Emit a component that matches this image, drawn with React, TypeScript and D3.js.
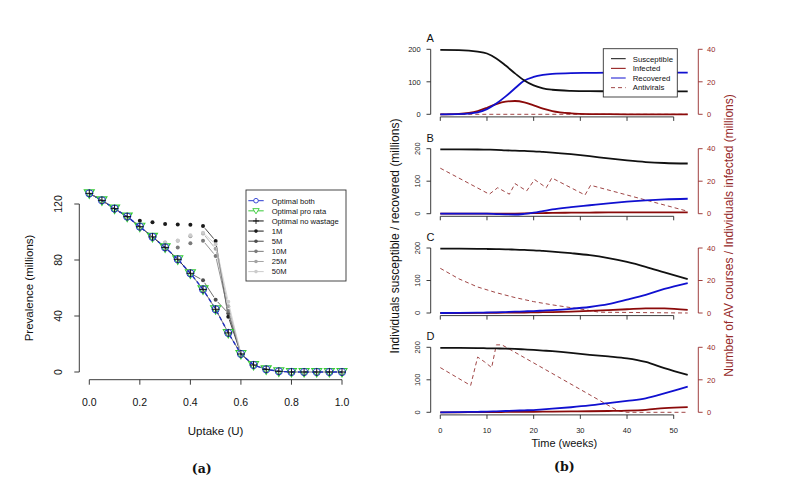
import React from 'react';
import * as d3 from 'd3';

// ---- panel (a): prevalence vs uptake ----
const uptake = [0, 0.05, 0.1, 0.15, 0.2, 0.25, 0.3, 0.35, 0.4, 0.45, 0.5, 0.55, 0.6, 0.65, 0.7, 0.75, 0.8, 0.85, 0.9, 0.95, 1];
const optimalBoth = [127.6, 122.6, 116.7, 111, 103.8, 96.5, 89, 80.5, 70.5, 59, 44.8, 27.9, 12.9, 5, 1.9, 0.5, 0, 0, 0, 0, 0];
const optimalProRata = [127.6, 122.6, 116.7, 111, 103.8, 96.5, 89, 80.5, 70.5, 59, 44.8, 27.9, 12.9, 5, 1.9, 0.5, 0, 0, 0, 0, 0];
const optimalNoWastage = [127.6, 122.6, 116.7, 111, 103.8, 96.5, 89, 80.5, 70.5, 59, 44.8, 27.9, 12.9, 5, 1.9, 0.5, 0, 0, 0, 0, 0];
const budget1M = [127.6, 122.6, 116.7, 111, 108, 107, 105.8, 105.3, 105.2, 104.3, 93.6, 39.5, 12.9, 5, 1.9, 0.5, 0, 0, 0, 0, 0];
const budget5M = [127.6, 122.6, 116.7, 111, 103.8, 96.5, 89, 80.5, 70.5, 65.5, 51.6, 42, 12.9, 5, 1.9, 0.5, 0, 0, 0, 0, 0];
const budget10M = [127.6, 122.6, 116.7, 111, 103.8, 96.5, 89, 89, 91.9, 93.8, 82.9, 43.5, 12.9, 5, 1.9, 0.5, 0, 0, 0, 0, 0];
const budget25M = [127.6, 122.6, 116.7, 111, 103.8, 96.5, 92.5, 93.8, 97, 99, 88, 47, 12.9, 5, 1.9, 0.5, 0, 0, 0, 0, 0];
const budget50M = [127.6, 122.6, 116.7, 111, 103.8, 96.5, 92.5, 94, 97.6, 99.5, 91.2, 50.2, 12.9, 5, 1.9, 0.5, 0, 0, 0, 0, 0];
const budgetSeries = [budget1M, budget5M, budget10M, budget25M, budget50M];
const budgetLabels = ['1M', '5M', '10M', '25M', '50M'];
const budgetColors = ['#1a1a1a', '#4d4d4d', '#7a7a7a', '#a3a3a3', '#cccccc'];
const prevTicks = [0, 40, 80, 120];
const uptakeTicks = [0, 0.2, 0.4, 0.6, 0.8, 1.0];

// ---- panel (b): epidemic curves, four scenarios ----
const panelLetters = ['A', 'B', 'C', 'D'];
const weeks = [0, 4, 8, 10, 12, 14, 16, 18, 20, 22, 24, 28, 32, 36, 40, 44, 48, 53];
const susA = [198, 197.5, 193, 187, 172, 150, 126, 104, 89, 80, 75.5, 72, 71, 70.8, 70.6, 70.5, 70.5, 70.5];
const recA = [0, 0.5, 6, 16, 33, 55, 80, 104, 115, 121, 124.5, 127, 127.5, 128, 128, 128, 128, 128];
const infA = [0, 0.3, 2, 4, 6.3, 7.8, 8.2, 7.4, 5.5, 3.5, 2, 0.6, 0.15, 0.05, 0, 0, 0, 0];
const susB = [198, 198, 197.5, 197, 196.5, 195, 194, 193, 192, 190, 188, 183, 177, 170, 164, 159, 156, 154.5];
const recB = [0, 0, 0, 0, -1, -2, -2.5, -0.5, 3, 8, 13, 20, 26, 32, 37, 41, 44, 46];
const infB = [0, 0, 0, 0, 0, 0, 0.1, 0.2, 0.3, 0.4, 0.5, 0.6, 0.7, 0.8, 0.8, 0.8, 0.8, 0.8];
const susC = [198, 198, 197.5, 197, 196.5, 196, 195, 194, 193, 191, 189, 184, 178, 169, 157, 142, 125, 104];
const recC = [0, 0.3, 1, 1.5, 2, 3, 4, 5, 6, 7.5, 9, 13, 18.5, 27, 41, 56, 74, 92];
const infC = [0, 0, 0.05, 0.1, 0.15, 0.2, 0.25, 0.3, 0.4, 0.5, 0.6, 0.9, 1.3, 1.8, 2.3, 2.8, 2.9, 1.9];
const susD = [198, 198, 197.5, 197, 196.5, 196, 195, 193.5, 192, 190, 188, 183, 177, 172, 166, 155, 136, 115];
const recD = [0, 0.5, 1.5, 2, 3, 4, 5, 6, 7, 9, 11, 15.5, 21, 28, 35, 43, 58, 79];
const infD = [0, 0, 0.1, 0.1, 0.15, 0.2, 0.25, 0.3, 0.35, 0.4, 0.45, 0.55, 0.65, 0.8, 1, 1.5, 2.6, 3.2];
const avWeeksA = [0, 53];
const avA = [0, 0];
const avWeeksB = [0, 10.5, 12.3, 14.8, 16, 18.5, 20.2, 22.7, 23.9, 31, 32.2, 53];
const avB = [28, 12, 16, 12, 18.5, 14, 21, 16, 22, 11.5, 17.5, 1.5];
const avWeeksC = [0, 4, 8, 12, 16, 20, 24, 28, 31, 34, 53];
const avC = [27.5, 21, 16, 12.5, 9.5, 7, 5, 3.3, 2, 0.5, 0];
const avWeeksD = [0, 6.5, 8, 9.5, 11, 12, 13.2, 38, 40, 53];
const avD = [27.5, 16.5, 34, 31, 27.5, 41.5, 41.5, 1, 0, 0];
const susAll = [susA, susB, susC, susD];
const recAll = [recA, recB, recC, recD];
const infAll = [infA, infB, infC, infD];
const avWeeksAll = [avWeeksA, avWeeksB, avWeeksC, avWeeksD];
const avAll = [avA, avB, avC, avD];
const leftTicks = [0, 100, 200];
const rightTicks = [0, 20, 40];
const weekTicks = [0, 10, 20, 30, 40, 50];
const legendB = ['Susceptible', 'Infected', 'Recovered', 'Antivirals'];

const FONT = 'Liberation Sans, Arial, Helvetica, sans-serif';
const AXIS = '#262626';
const RED_AXIS = '#952a2a';
const INF_COL = '#8b0a0a';
const AV_COL = '#a04646';
const REC_COL = '#1010d0';

const App = () => {
  // left panel scales
  const xL = d3.scaleLinear().domain([0, 1]).range([89.3, 342]);
  const yL = d3.scaleLinear().domain([0, 120]).range([372, 204]);
  const optLine = d3.line<number>().x((_, i) => xL(uptake[i])).y(d => yL(d));

  // "type b" segments (lines with gaps around points)
  const gapSegments = (vals: number[]) => {
    const segs: { x1: number; y1: number; x2: number; y2: number }[] = [];
    for (let i = 0; i < vals.length - 1; i++) {
      const ax = xL(uptake[i]), ay = yL(vals[i]);
      const bx = xL(uptake[i + 1]), by = yL(vals[i + 1]);
      const len = Math.hypot(bx - ax, by - ay);
      if (len < 14) continue;
      const g = 3 / len;
      segs.push({ x1: ax + (bx - ax) * g, y1: ay + (by - ay) * g, x2: bx - (bx - ax) * g, y2: by - (by - ay) * g });
    }
    return segs;
  };

  const tri = (cx: number, cy: number) => `M${cx - 5},${cy - 3.5}L${cx + 5},${cy - 3.5}L${cx},${cy + 5}Z`;

  // right panel scales
  const xR = d3.scaleLinear().domain([0, 50]).range([440.3, 673.7]);
  const panelBottoms = [114.3, 213.7, 313, 412.3];

  return (
    <svg width={790} height={492} style={{ position: 'absolute', left: 0, top: 0, background: '#fff' }} fontFamily={FONT}>
      <rect width={790} height={492} fill="#fff" />

      {/* ===== panel (a) ===== */}
      <g>
        {/* axes */}
        <line x1={79.3} x2={79.3} y1={yL(0)} y2={yL(120)} stroke={AXIS} strokeWidth={0.9} />
        {prevTicks.map(t => (
          <g key={t}>
            <line x1={74.3} x2={79.3} y1={yL(t)} y2={yL(t)} stroke={AXIS} strokeWidth={0.9} />
            <text transform={`translate(61.5,${yL(t)}) rotate(-90)`} textAnchor="middle" fontSize={10.5} fill="#111">{t}</text>
          </g>
        ))}
        <line x1={xL(0)} x2={xL(1)} y1={379.7} y2={379.7} stroke={AXIS} strokeWidth={0.9} />
        {uptakeTicks.map(t => (
          <g key={t}>
            <line x1={xL(t)} x2={xL(t)} y1={379.7} y2={384.7} stroke={AXIS} strokeWidth={0.9} />
            <text x={xL(t)} y={405.5} textAnchor="middle" fontSize={10.5} fill="#111">{t.toFixed(1)}</text>
          </g>
        ))}
        <text transform="translate(32.5,288) rotate(-90)" textAnchor="middle" fontSize={11.5} fill="#111">Prevalence (millions)</text>
        <text x={215.6} y={435} textAnchor="middle" fontSize={11.5} fill="#111">Uptake (U)</text>
        <text x={201.7} y={472.5} textAnchor="middle" fontSize={12.5} fontWeight="bold" fontFamily="DejaVu Serif, serif" fill="#111">(a)</text>

        {/* budget-limited series */}
        {budgetSeries.map((vals, s) => (
          <g key={budgetLabels[s]}>
            {gapSegments(vals).map((sg, i) => (
              <line key={i} x1={sg.x1} y1={sg.y1} x2={sg.x2} y2={sg.y2} stroke={budgetColors[s]} strokeWidth={0.8} />
            ))}
            {vals.map((v, i) => Math.abs(v - optimalBoth[i]) > 0.5 ? (
              <circle key={i} cx={xL(uptake[i])} cy={yL(v)} r={2} fill={budgetColors[s]} />
            ) : null)}
          </g>
        ))}

        {/* optimal series */}
        <path d={optLine(optimalNoWastage) || ''} fill="none" stroke="#111" strokeWidth={0.6} />
        <path d={optLine(optimalBoth) || ''} fill="none" stroke="#1f2fc4" strokeWidth={1.4} strokeDasharray="4,3" />
        {optimalProRata.map((v, i) => (
          <path key={'t' + i} d={tri(xL(uptake[i]), yL(v))} fill="none" stroke="#36c936" strokeWidth={1.1} />
        ))}
        {optimalBoth.map((v, i) => (
          <circle key={'c' + i} cx={xL(uptake[i])} cy={yL(v)} r={3.6} fill="none" stroke="#2a3ad0" strokeWidth={1} />
        ))}
        {optimalNoWastage.map((v, i) => (
          <path key={'p' + i} d={`M${xL(uptake[i]) - 3.8},${yL(v)}h7.6M${xL(uptake[i])},${yL(v) - 3.8}v7.6`} stroke="#111" strokeWidth={1} />
        ))}

        {/* legend */}
        <rect x={246} y={190} width={100} height={91} fill="#fff" stroke="#333" strokeWidth={0.9} />
        {[
          { label: 'Optimal both', col: '#2a3ad0', kind: 'circle' },
          { label: 'Optimal pro rata', col: '#36c936', kind: 'tri' },
          { label: 'Optimal no wastage', col: '#111', kind: 'plus' },
          ...budgetLabels.map((l, i) => ({ label: l, col: budgetColors[i], kind: 'dot' })),
        ].map((e, i) => {
          const y = 200.7 + i * 10.13;
          return (
            <g key={e.label}>
              <line x1={248.3} x2={263.7} y1={y} y2={y} stroke={e.col} strokeWidth={1} />
              {e.kind === 'circle' && <circle cx={256} cy={y} r={2.3} fill="#fff" stroke={e.col} strokeWidth={0.9} />}
              {e.kind === 'tri' && <path d={`M252.8,${y - 2.2}L259.2,${y - 2.2}L256,${y + 3}Z`} fill="#fff" stroke={e.col} strokeWidth={0.9} />}
              {e.kind === 'plus' && <path d={`M253,${y}h6M256,${y - 3}v6`} stroke={e.col} strokeWidth={0.9} />}
              {e.kind === 'dot' && <circle cx={256} cy={y} r={1.8} fill={e.col} />}
              <text x={271.7} y={y + 2.8} fontSize={7.6} fill="#111">{e.label}</text>
            </g>
          );
        })}
      </g>

      {/* ===== panel (b) ===== */}
      <g>
        {panelLetters.map((letter, p) => {
          const y0 = panelBottoms[p];
          const yLeft = d3.scaleLinear().domain([0, 200]).range([y0, y0 - 65]);
          const yRight = d3.scaleLinear().domain([0, 40]).range([y0, y0 - 65]);
          const smoothLeft = d3.line<number>().x((_, i) => xR(weeks[i])).y(d => yLeft(d)).curve(d3.curveMonotoneX);
          const smoothRight = d3.line<number>().x((_, i) => xR(weeks[i])).y(d => yRight(d)).curve(d3.curveMonotoneX);
          const avLine = d3.line<number>().x((_, i) => xR(avWeeksAll[p][i])).y(d => yRight(d));
          const axisY = y0 + 2.6;
          return (
            <g key={letter}>
              <text x={426.5} y={y0 - 72} fontSize={11} fill="#111">{letter}</text>
              {/* left axis */}
              <line x1={430.7} x2={430.7} y1={yLeft(0)} y2={yLeft(200)} stroke={AXIS} strokeWidth={0.9} />
              {leftTicks.map(t => (
                <g key={t}>
                  <line x1={426.5} x2={430.7} y1={yLeft(t)} y2={yLeft(t)} stroke={AXIS} strokeWidth={0.9} />
                  {p === 0 ? (
                    <text x={420.7} y={yLeft(t) + 2.7} textAnchor="end" fontSize={7.5} fill="#222">{t}</text>
                  ) : (
                    <text transform={`translate(420.2,${yLeft(t)}) rotate(-90)`} textAnchor="middle" fontSize={7.5} fill="#222">{t}</text>
                  )}
                </g>
              ))}
              {/* right axis */}
              <line x1={698.3} x2={698.3} y1={yRight(0)} y2={yRight(40)} stroke={RED_AXIS} strokeWidth={0.9} />
              {rightTicks.map(t => (
                <g key={t}>
                  <line x1={698.3} x2={702.6} y1={yRight(t)} y2={yRight(t)} stroke={RED_AXIS} strokeWidth={0.9} />
                  <text x={707} y={yRight(t) + 2.7} fontSize={7.5} fill={RED_AXIS}>{t}</text>
                </g>
              ))}
              {/* bottom axis */}
              <line x1={xR(0)} x2={xR(50)} y1={axisY} y2={axisY} stroke={AXIS} strokeWidth={0.9} />
              {weekTicks.map(t => (
                <g key={t}>
                  <line x1={xR(t)} x2={xR(t)} y1={axisY} y2={axisY + 4} stroke={AXIS} strokeWidth={0.9} />
                  {p === 3 && <text x={xR(t)} y={433} textAnchor="middle" fontSize={7.5} fill="#222">{t}</text>}
                </g>
              ))}
              {/* series */}
              <path d={avLine(avAll[p]) || ''} fill="none" stroke={AV_COL} strokeWidth={1} strokeDasharray="4,3" />
              <path d={smoothRight(infAll[p]) || ''} fill="none" stroke={INF_COL} strokeWidth={1.8} />
              <path d={smoothLeft(recAll[p]) || ''} fill="none" stroke={REC_COL} strokeWidth={1.8} />
              <path d={smoothLeft(susAll[p]) || ''} fill="none" stroke="#111" strokeWidth={1.8} />
            </g>
          );
        })}

        {/* legend in A */}
        <rect x={603.3} y={48.7} width={74} height={48.3} fill="#fff" stroke="#333" strokeWidth={0.9} />
        {legendB.map((l, i) => {
          const y = 58.7 + i * 9.65;
          const col = [ '#111', INF_COL, REC_COL, AV_COL ][i];
          return (
            <g key={l}>
              <line x1={611} x2={625.7} y1={y} y2={y} stroke={col} strokeWidth={1} strokeDasharray={i === 3 ? '4,3' : undefined} />
              <text x={632.7} y={y + 2.8} fontSize={7.8} fill="#111">{l}</text>
            </g>
          );
        })}

        <text transform="translate(399.4,236) rotate(-90)" textAnchor="middle" fontSize={12} fill="#111">Individuals susceptible / recovered (millions)</text>
        <text transform="translate(733.3,235.5) rotate(-90)" textAnchor="middle" fontSize={12} fill={RED_AXIS}>Number of AV courses / Individuals infected (millions)</text>
        <text x={564.3} y={447.2} textAnchor="middle" fontSize={11} fill="#111">Time (weeks)</text>
        <text x={564.3} y={471} textAnchor="middle" fontSize={12.5} fontWeight="bold" fontFamily="DejaVu Serif, serif" fill="#111">(b)</text>
      </g>
    </svg>
  );
};

export default App;
